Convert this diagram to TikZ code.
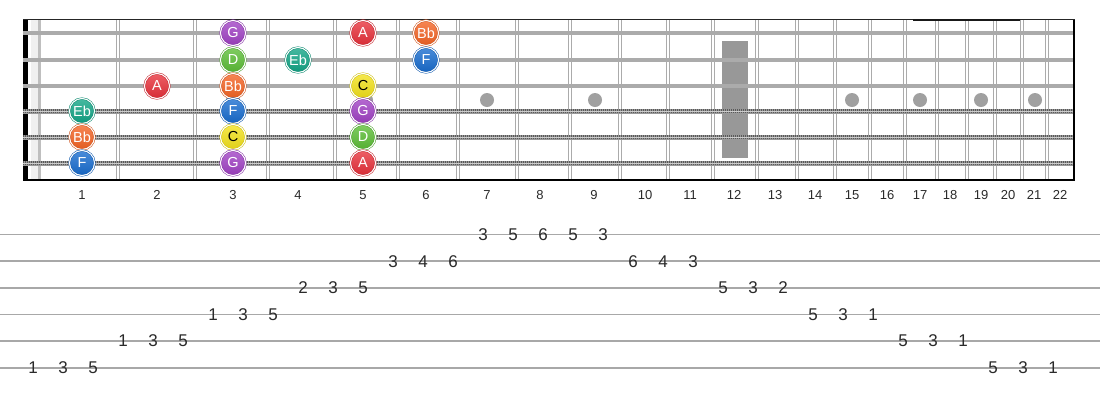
\documentclass[tikz,border=0pt]{standalone}
\usepackage{fontspec}
\setmainfont{Liberation Sans}
\definecolor{cG}{HTML}{A040C4}
\definecolor{cA}{HTML}{E8303A}
\definecolor{cBb}{HTML}{F56424}
\definecolor{cD}{HTML}{5CBE36}
\definecolor{cEb}{HTML}{12A586}
\definecolor{cF}{HTML}{176CCF}
\definecolor{cC}{HTML}{F3E21A}
\definecolor{fretc}{HTML}{ABABAB}
\definecolor{strc}{HTML}{ABABAB}
\definecolor{dotc}{HTML}{A0A0A0}
\definecolor{tabc}{HTML}{A8A8A8}
\definecolor{txtc}{HTML}{2A2A2A}
\tikzset{
  note/.style={circle, minimum size=25pt, inner sep=0pt,
    top color=#1!78!white, bottom color=#1!92!black, draw=#1!85!black,
    double=white, double distance=1.1pt, line width=0.5pt,
    text=white, font=\fontsize{14.5}{14.5}\selectfont},
  darknote/.style={note=#1, text=black},
  fretline/.style={draw=fretc, line width=1.3pt},
  plainstr/.style={draw=strc, line width=3.2pt},
  woundbase/.style={draw=black!40, line width=5pt},
  woundtex/.style={draw=black!65, line width=4.6pt, dash pattern=on 1pt off 1pt},
  woundmid/.style={draw=black!20, line width=0.9pt},
  fretnum/.style={font=\fontsize{13}{13}\selectfont, text=txtc},
  tabline/.style={draw=tabc, line width=1.6pt},
  tabnum/.style={font=\fontsize{17}{17}\selectfont, text=txtc, inner sep=1pt},
  inlay/.style={circle, fill=dotc, minimum size=14pt, inner sep=0pt}
}
\begin{document}
\begin{tikzpicture}[x=1pt,y=-1pt]
\path[use as bounding box, fill=white] (0,0) rectangle (1100,400);
% nut and light band
\fill[black!6] (31,19.5) rectangle (38,180);
\fill[black!25] (38,19.5) rectangle (41,180);
\fill[black] (23,19.5) rectangle (28,180);
% 12th fret marker
\fill[dotc!95!black] (722,41) rectangle (748,158);
% inlay dots
\foreach \x/\n in {233/3,366/5,487/7,595/9,852/15,920/17,981/19,1035/21}
  \node[inlay] (dot\n) at (\x,100) {};
% frets
\foreach \x in {118,195,268,335,398,458,517,570,620,668,713,757,797,835,870,905,937,967,995,1022,1047}{
  \draw[fretline] (\x-1.7,19.5) -- (\x-1.7,180);
  \draw[fretline] (\x+1.7,19.5) -- (\x+1.7,180);
}
% strings
\foreach \y in {33,60,86}
  \draw[plainstr] (23,\y) -- (1075,\y);
\foreach \y in {111,137,163}{
  \draw[woundbase] (23,\y) -- (1075,\y);
  \draw[woundtex] (23,\y) -- (1075,\y);
  \draw[woundmid] (23,\y) -- (1075,\y);
}
% borders
\draw[black!85, line width=1.5pt] (23,19.5) -- (1075,19.5);
\draw[black!90, line width=2pt] (913,19.5) -- (1020,19.5);
\draw[black, line width=2pt] (23,180) -- (1075,180);
\draw[black, line width=2.5pt] (1074,19.5) -- (1074,180.5);
% fret numbers
\foreach \x/\n in {82/1,157/2,233/3,298/4,363/5,426/6,487/7,540/8,594/9,645/10,690/11,734/12,775/13,815/14,852/15,887/16,920/17,950/18,981/19,1008/20,1034/21,1060/22}
  \node[fretnum] (fn\n) at (\x,195) {\n};
% notes
\node[note=cG]  (n1a) at (233,33) {G};
\node[note=cA]  (n1b) at (363,33) {A};
\node[note=cBb] (n1c) at (426,33) {Bb};
\node[note=cD]  (n2a) at (233,60) {D};
\node[note=cEb] (n2b) at (298,60) {Eb};
\node[note=cF]  (n2c) at (426,60) {F};
\node[note=cA]  (n3a) at (157,86) {A};
\node[note=cBb] (n3b) at (233,86) {Bb};
\node[darknote=cC] (n3c) at (363,86) {C};
\node[note=cEb] (n4a) at (82,111) {Eb};
\node[note=cF]  (n4b) at (233,111) {F};
\node[note=cG]  (n4c) at (363,111) {G};
\node[note=cBb] (n5a) at (82,137) {Bb};
\node[darknote=cC] (n5b) at (233,137) {C};
\node[note=cD]  (n5c) at (363,137) {D};
\node[note=cF]  (n6a) at (82,163) {F};
\node[note=cG]  (n6b) at (233,163) {G};
\node[note=cA]  (n6c) at (363,163) {A};
% tab lines
\foreach \i in {1,...,6}
  \draw[tabline] (0,{234.5+26.65*(\i-1)}) coordinate (tl\i) -- (1100,{234.5+26.65*(\i-1)});
% tab numbers: index/string/fret
\foreach \k/\s/\f in {0/6/1,1/6/3,2/6/5,3/5/1,4/5/3,5/5/5,6/4/1,7/4/3,8/4/5,9/3/2,10/3/3,11/3/5,12/2/3,13/2/4,14/2/6,15/1/3,16/1/5,17/1/6,18/1/5,19/1/3,20/2/6,21/2/4,22/2/3,23/3/5,24/3/3,25/3/2,26/4/5,27/4/3,28/4/1,29/5/5,30/5/3,31/5/1,32/6/5,33/6/3,34/6/1}
  \node[tabnum] (t\k) at ({33+30*\k},{234.5+26.65*(\s-1)}) {\f};
\end{tikzpicture}
\end{document}
